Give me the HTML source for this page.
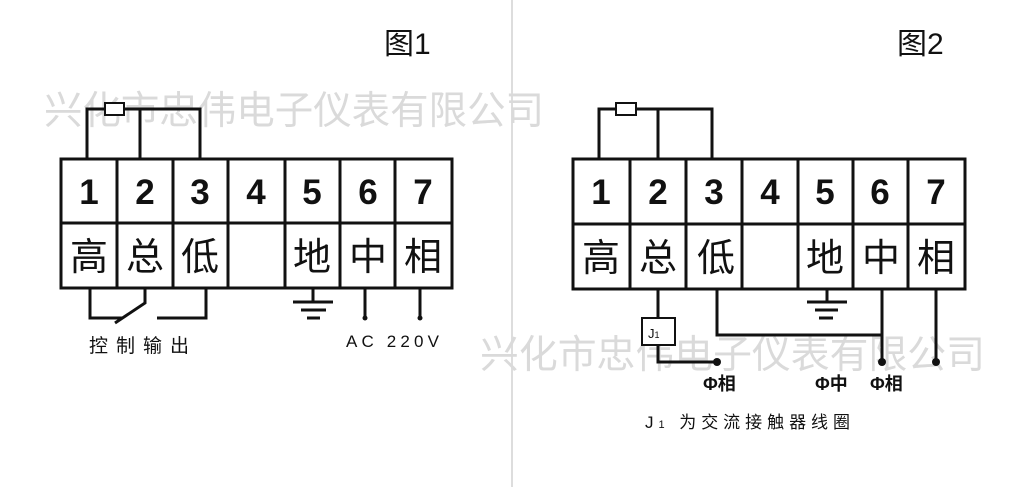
<!DOCTYPE html>
<html><head><meta charset="utf-8"><style>
html,body{margin:0;padding:0;background:#fff;}
svg{display:block;}
.n{font-family:"Liberation Sans",sans-serif;font-weight:bold;font-size:35px;fill:#111;text-anchor:middle;}
.c{font-family:"Liberation Sans","Noto Sans CJK SC",sans-serif;font-size:38px;fill:#111;text-anchor:middle;}
.s{font-family:"Liberation Sans","Noto Sans CJK SC",sans-serif;font-size:17px;fill:#111;}
.w{font-family:"Liberation Sans","Noto Sans CJK SC",sans-serif;font-size:39px;fill:#dadada;}
</style></head><body>
<svg width="1024" height="487" viewBox="0 0 1024 487" xmlns="http://www.w3.org/2000/svg">
<line x1="512" y1="0" x2="512" y2="487" stroke="#ddd" stroke-width="2"/>
<text class="w" x="44" y="124" textLength="500" lengthAdjust="spacingAndGlyphs">兴化市忠伟电子仪表有限公司</text>
<text class="w" x="480" y="368" textLength="505" lengthAdjust="spacingAndGlyphs">兴化市忠伟电子仪表有限公司</text>
<text x="384" y="54" style="font-family:'Liberation Sans','Noto Sans CJK SC',sans-serif;font-size:30px;fill:#111">图1</text>
<text x="897" y="54" style="font-family:'Liberation Sans','Noto Sans CJK SC',sans-serif;font-size:30px;fill:#111">图2</text>
<g fill="none" stroke="#111" stroke-width="3">
<rect x="61" y="159" width="391" height="129"/>
<line x1="61" y1="223" x2="452" y2="223"/>
<line x1="117" y1="159" x2="117" y2="288"/><line x1="173" y1="159" x2="173" y2="288"/>
<line x1="228" y1="159" x2="228" y2="288"/><line x1="285" y1="159" x2="285" y2="288"/>
<line x1="340" y1="159" x2="340" y2="288"/><line x1="395" y1="159" x2="395" y2="288"/>
<polyline points="87,159 87,109 200,109 200,159"/>
<line x1="140" y1="109" x2="140" y2="159"/>
<polyline points="90,288 90,318 123,318"/>
<polyline points="145,288 145,303 115,323"/>
<polyline points="157,318 206,318 206,288"/>
<line x1="313" y1="288" x2="313" y2="302"/>
<line x1="293" y1="302" x2="333" y2="302"/><line x1="301" y1="310" x2="326" y2="310"/><line x1="307" y1="318" x2="320" y2="318"/>
<line x1="365" y1="288" x2="365" y2="318"/><line x1="420" y1="288" x2="420" y2="318"/>
<rect x="573" y="159" width="392" height="130"/>
<line x1="573" y1="224" x2="965" y2="224"/>
<line x1="630" y1="159" x2="630" y2="289"/><line x1="686" y1="159" x2="686" y2="289"/>
<line x1="742" y1="159" x2="742" y2="289"/><line x1="798" y1="159" x2="798" y2="289"/>
<line x1="853" y1="159" x2="853" y2="289"/><line x1="908" y1="159" x2="908" y2="289"/>
<polyline points="599,159 599,109 712,109 712,159"/>
<line x1="658" y1="109" x2="658" y2="159"/>
<line x1="658" y1="289" x2="658" y2="318"/>
<polyline points="658,345 658,362 717,362"/>
<polyline points="717,289 717,335 882,335 882,289"/>
<line x1="882" y1="335" x2="882" y2="362"/>
<line x1="827" y1="289" x2="827" y2="302"/>
<line x1="807" y1="302" x2="847" y2="302"/><line x1="815" y1="310" x2="838" y2="310"/><line x1="819" y1="318" x2="833" y2="318"/>
<line x1="936" y1="289" x2="936" y2="362"/>
</g>
<g fill="#fff" stroke="#111" stroke-width="2">
<rect x="105" y="103" width="19" height="12"/>
<rect x="616" y="103" width="20" height="12"/>
<rect x="642" y="318" width="33" height="27"/>
</g>
<g fill="#111"><circle cx="365" cy="318" r="2.5"/><circle cx="420" cy="318" r="2.5"/>
<circle cx="717" cy="362" r="4"/><circle cx="882" cy="362" r="4"/><circle cx="936" cy="362" r="4"/></g>
<g class="n">
<text x="89" y="204">1</text><text x="145" y="204">2</text><text x="200" y="204">3</text><text x="256" y="204">4</text><text x="312" y="204">5</text><text x="368" y="204">6</text><text x="423" y="204">7</text>
<text x="601" y="204">1</text><text x="658" y="204">2</text><text x="714" y="204">3</text><text x="770" y="204">4</text><text x="825" y="204">5</text><text x="880" y="204">6</text><text x="936" y="204">7</text>
</g>
<g class="c">
<text x="89" y="270">高</text><text x="145" y="270">总</text><text x="200" y="270">低</text><text x="312" y="270">地</text><text x="368" y="270">中</text><text x="423" y="270">相</text>
<text x="601" y="271">高</text><text x="658" y="271">总</text><text x="716" y="271">低</text><text x="825" y="271">地</text><text x="881" y="271">中</text><text x="936" y="271">相</text>
</g>
<text class="s" x="89" y="352" textLength="100" style="font-size:19px">控制输出</text>
<text class="s" x="346" y="347" textLength="93">AC 220V</text>
<text x="648" y="338" style="font-family:'Liberation Sans',sans-serif;font-size:13px;fill:#111">J<tspan font-size="9">1</tspan></text>
<g class="s" style="font-weight:bold;font-size:18px">
<text x="703" y="390">Φ相</text><text x="815" y="390">Φ中</text><text x="870" y="390">Φ相</text>
</g>
<text class="s" x="645" y="428" textLength="205">J<tspan font-size="11">1</tspan> 为交流接触器线圈</text>
</svg>
</body></html>
